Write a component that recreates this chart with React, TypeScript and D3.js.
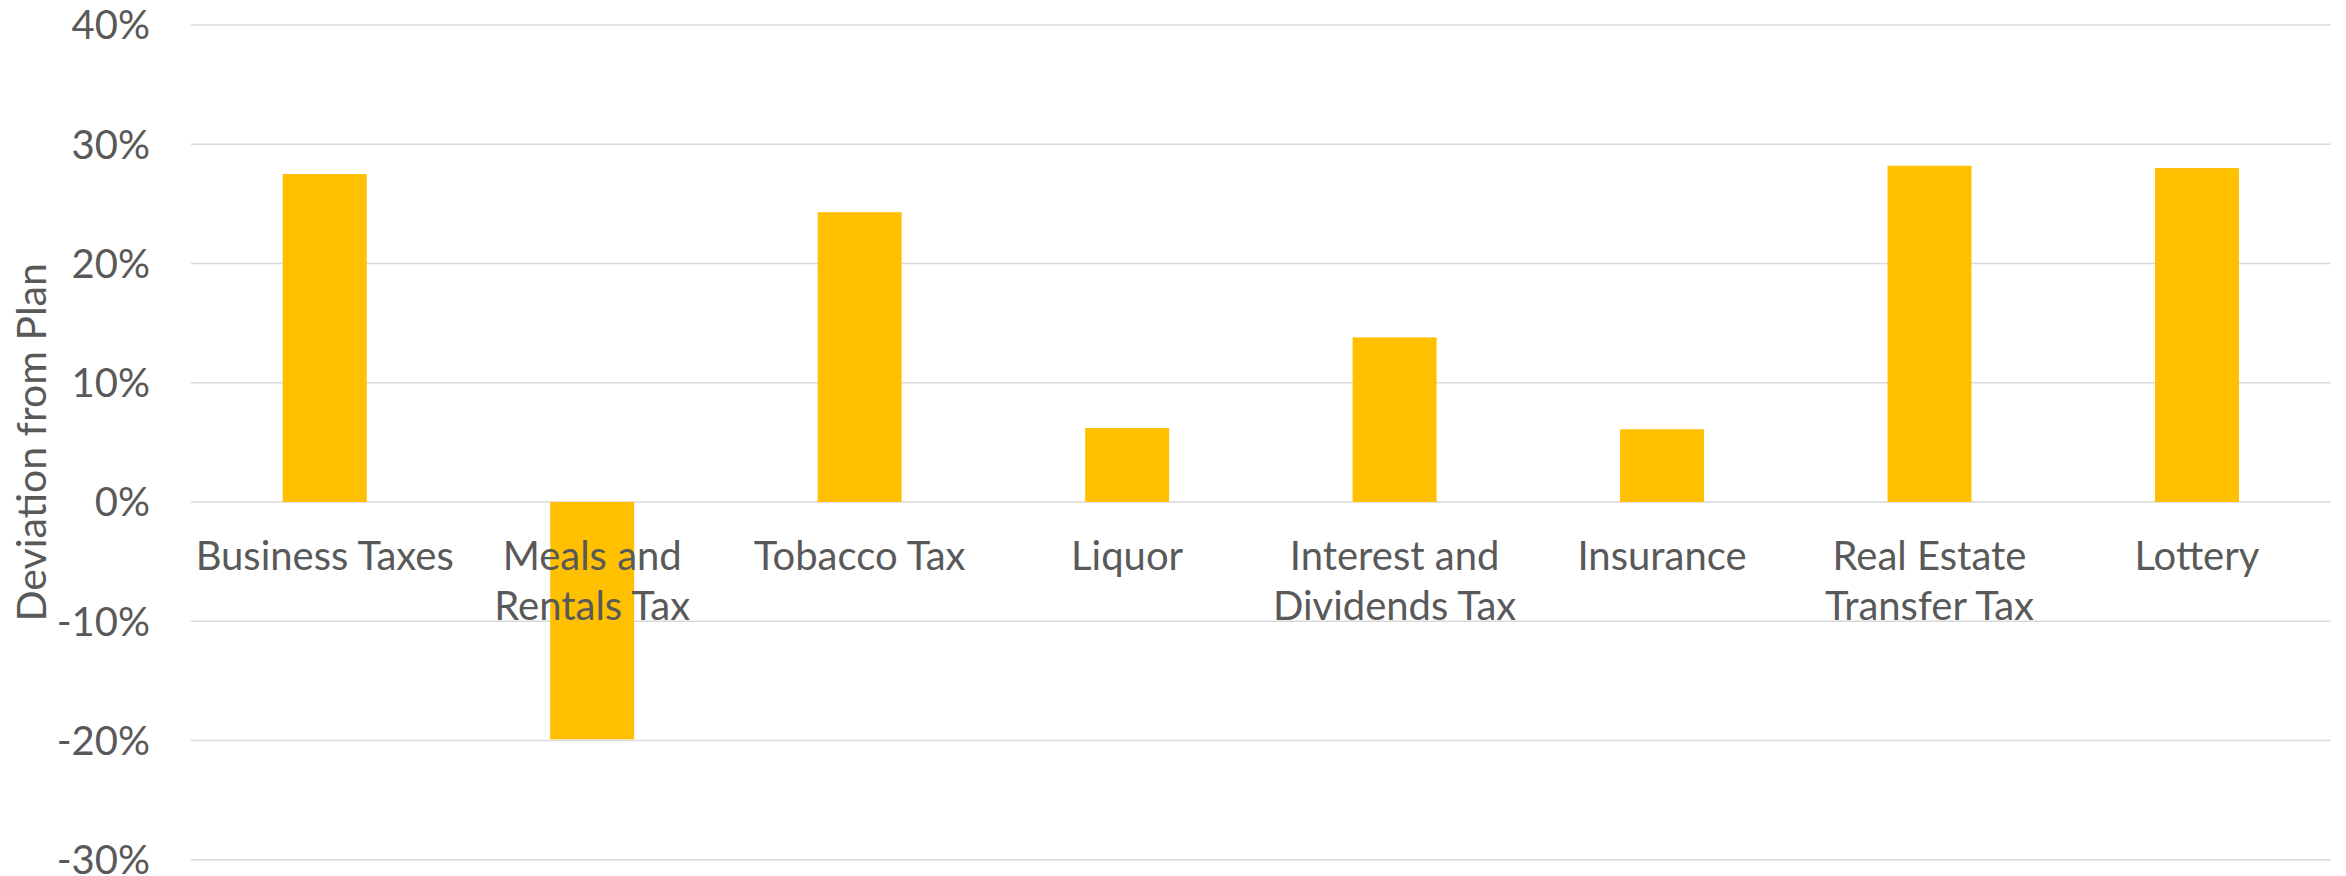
import React from "react";
import * as d3 from "d3";

const categories = [
  "Business Taxes",
  "Meals and Rentals Tax",
  "Tobacco Tax",
  "Liquor",
  "Interest and Dividends Tax",
  "Insurance",
  "Real Estate Transfer Tax",
  "Lottery",
];
const categoryLines = [
  ["Business Taxes"],
  ["Meals and", "Rentals Tax"],
  ["Tobacco Tax"],
  ["Liquor"],
  ["Interest and", "Dividends Tax"],
  ["Insurance"],
  ["Real Estate", "Transfer Tax"],
  ["Lottery"],
];
const deviation = [0.275, -0.199, 0.243, 0.062, 0.138, 0.061, 0.282, 0.28];
const yTicks = [0.4, 0.3, 0.2, 0.1, 0, -0.1, -0.2, -0.3];
const yTitle = "Deviation from Plan";

const W = 2346;
const H = 876;
const FONT = "Lato, 'Open Sans', sans-serif";
const TEXT = "#595959";

export default function App() {
  const x = d3
    .scaleBand<string>()
    .domain(categories)
    .range([191, 2330.7])
    .paddingInner(0.686)
    .paddingOuter(0.343);
  const y = d3.scaleLinear().domain([-0.3, 0.4]).range([859.7, 25]);
  const fmt = (t: number) => d3.format(".0%")(t).replace("\u2212", "-");

  return (
    <svg
      width={W}
      height={H}
      style={{ position: "absolute", left: 0, top: 0, background: "#fff" }}
      fontFamily={FONT}
    >
      <rect x={0} y={0} width={W} height={H} fill="#fff" />
      {yTicks.map((t) => (
        <line
          key={"g" + t}
          x1={191}
          x2={2330.7}
          y1={y(t)}
          y2={y(t)}
          stroke="#d9d9d9"
          strokeWidth={1.6}
        />
      ))}
      {yTicks.map((t) => (
        <text
          key={"t" + t}
          x={150}
          y={y(t)}
          dy="0.36em"
          textAnchor="end"
          fontSize={40}
          fill={TEXT}
        >
          {fmt(t)}
        </text>
      ))}
      {categories.map((c, i) => {
        const v = deviation[i];
        return (
          <rect
            key={c}
            x={x(c)!}
            width={x.bandwidth()}
            y={Math.min(y(v), y(0))}
            height={Math.abs(y(v) - y(0))}
            fill="#FFC000"
          />
        );
      })}
      {categories.map((c, i) => (
        <text
          key={"l" + c}
          x={x(c)! + x.bandwidth() / 2}
          y={570}
          textAnchor="middle"
          fontSize={40}
          fill={TEXT}
        >
          {categoryLines[i].map((ln, j) => (
            <tspan key={j} x={x(c)! + x.bandwidth() / 2} y={570 + j * 50}>
              {ln}
            </tspan>
          ))}
        </text>
      ))}
      <text
        transform={`translate(31, ${(y(0.4) + y(-0.3)) / 2}) rotate(-90)`}
        textAnchor="middle"
        dy="0.36em"
        fontSize={41}
        fill={TEXT}
      >
        {yTitle}
      </text>
    </svg>
  );
}
